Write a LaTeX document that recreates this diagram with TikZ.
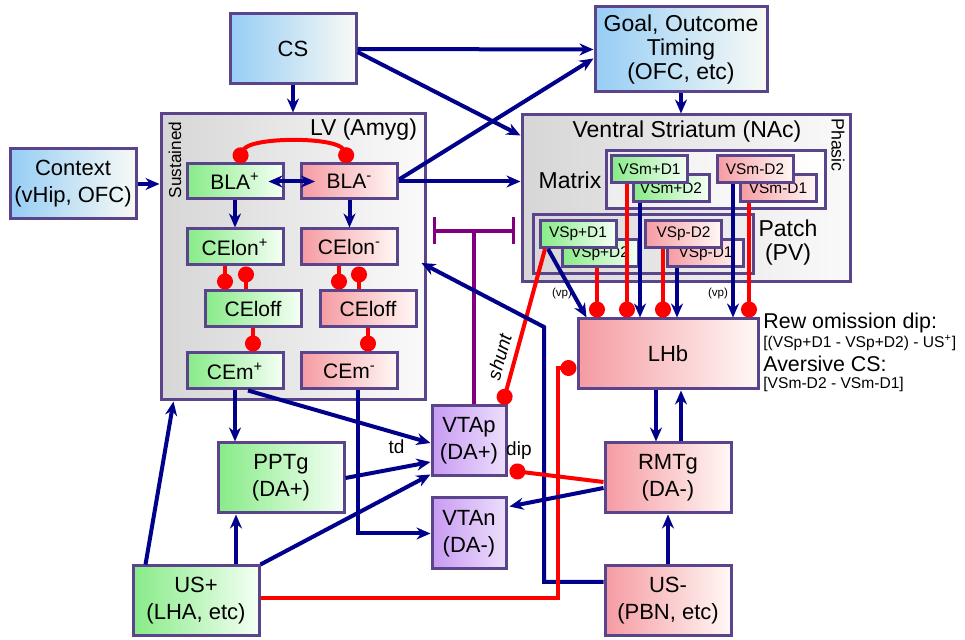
\documentclass[tikz,border=0pt]{standalone}
\usepackage{fontspec}
\setmainfont{Liberation Sans}
\usetikzlibrary{positioning,calc,arrows.meta}

\definecolor{boxline}{RGB}{90,68,140}
\definecolor{excit}{RGB}{0,0,139}
\definecolor{inhib}{RGB}{255,0,0}
\definecolor{shuntc}{RGB}{128,0,128}
\definecolor{cueleft}{RGB}{150,205,245}
\definecolor{cueright}{RGB}{248,250,245}
\definecolor{posleft}{RGB}{135,235,135}
\definecolor{posright}{RGB}{245,255,245}
\definecolor{negleft}{RGB}{245,155,162}
\definecolor{negright}{RGB}{255,248,245}
\definecolor{daleft}{RGB}{200,155,242}
\definecolor{daright}{RGB}{236,222,252}

\begin{document}
\begin{tikzpicture}
[x=0.5pt, y=-0.5pt,
wh/.style 2 args={minimum width=#1*0.5pt, minimum height=#2*0.5pt},
area/.style={draw=boxline, line width=1.5pt, inner sep=0pt, align=center, font=\fontsize{11}{13.5}\selectfont},
cuebox/.style={area, left color=cueleft, right color=cueright},
posbox/.style={area, left color=posleft, right color=posright},
negbox/.style={area, left color=negleft, right color=negright},
dabox/.style={area, left color=daleft, right color=daright},
regionbox/.style={area, left color=gray!32, right color=gray!4},
amy/.style={wh={96}{36}, font=\fontsize{10.5}{12}\selectfont},
striosome/.style={wh={76}{27}, font=\fontsize{7.7}{8}\selectfont},
title/.style={font=\fontsize{11.5}{12}\selectfont, align=center},
excite/.style={draw=excit, line width=2pt, -{Stealth[length=7pt,width=6pt]}},
inhibit/.style={draw=inhib, line width=2pt, -{Circle[length=8pt]}},
shunting/.style={draw=shuntc, line width=1.6pt},
]
\useasboundingbox (0,0) rectangle (965,640);

\node[cuebox, wh={126}{70}] (cs) at (293,49) {CS};
\node[cuebox, wh={126}{70}] (ctx) at (73,184) {Context\\(vHip, OFC)};
\node[cuebox, wh={172}{85}, font=\fontsize{11.5}{11.8}\selectfont] (goal) at (681,49.5) {Goal, Outcome\\Timing\\(OFC, etc)};

\node[regionbox, wh={264}{286}] (lv) at (293,257) {};
\node[title, anchor=east] (lvname) at (424,130) {LV (Amyg)};
\node[rotate=90, font=\fontsize{8.6}{9}\selectfont] (sust) at (175,160) {Sustained};
\node[posbox, amy, minimum height=17.5pt] (blap) at (235,181.5) {BLA\textsuperscript{+}};
\node[negbox, amy, minimum height=17.5pt] (blam) at (349.5,181.5) {BLA\textsuperscript{-}};
\node[posbox, amy] (celonp) at (235,247) {CElon\textsuperscript{+}};
\node[negbox, amy] (celonm) at (349.5,247) {CElon\textsuperscript{-}};
\node[posbox, amy] (celoffp) at (253,309) {CEloff};
\node[negbox, amy] (celoffm) at (368,309) {CEloff};
\node[posbox, amy] (cemp) at (235,371) {CEm\textsuperscript{+}};
\node[negbox, amy] (cemm) at (349.5,371) {CEm\textsuperscript{-}};

\node[regionbox, wh={328}{167}] (vs) at (686,198.5) {};
\node[title] (vsname) at (687,132) {Ventral Striatum (NAc)};
\node[rotate=-90, font=\fontsize{8.9}{9}\selectfont] (phasic) at (838,145) {Phasic};
\node[area, left color=gray!14, right color=white, wh={219}{58}] (matrix) at (715.5,180) {};
\node[title] (matrixname) at (570,180) {Matrix};
\node[area, wh={220}{59}] (patch) at (643,244.5) {};
\node[title] (patchname) at (788,243) {Patch\\(PV)};
\node[posbox, striosome] (vsmpd2) at (671,188) {VSm+D2};
\node[posbox, striosome] (vsmpd1) at (649.5,169) {VSm+D1};
\node[negbox, striosome] (vsmmd1) at (778,188) {VSm-D1};
\node[negbox, striosome] (vsmmd2) at (755,169) {VSm-D2};
\node[posbox, striosome] (vsppd2) at (600,253.5) {VSp+D2};
\node[posbox, striosome] (vsppd1) at (578,234) {VSp+D1};
\node[negbox, striosome] (vspmd1) at (705.5,253.5) {VSp-D1};
\node[negbox, striosome] (vspmd2) at (683.5,234) {VSp-D2};

\node[negbox, wh={180}{70}] (lhb) at (668,354) {LHb};
\node[negbox, wh={126}{70}] (rmtg) at (668,478) {RMTg\\(DA-)};
\node[negbox, wh={126}{70}] (usm) at (668,601) {US-\\(PBN, etc)};
\node[posbox, wh={126}{70}] (usp) at (196,601) {US+\\(LHA, etc)};
\node[posbox, wh={126}{70}] (pptg) at (281,478) {PPTg\\(DA+)};
\node[dabox, wh={74}{70}] (vtap) at (469,441) {VTAp\\(DA+)};
\node[dabox, wh={74}{71}] (vtan) at (469,533.5) {VTAn\\(DA-)};

\node[anchor=west, inner sep=1pt, font=\fontsize{10.7}{11}\selectfont] (rewlab) at (761,323) {Rew omission dip:};
\node[anchor=west, inner sep=1pt, font=\fontsize{7.8}{8}\selectfont] (rewform) at (761,343) {[(VSp+D1 - VSp+D2) - US\textsuperscript{+}]};
\node[anchor=west, inner sep=1pt, font=\fontsize{10.7}{11}\selectfont] (averlab) at (761,364) {Aversive CS:};
\node[anchor=west, inner sep=1pt, font=\fontsize{7.8}{8}\selectfont] (averform) at (761,384) {[VSm-D2 - VSm-D1]};
\node[font=\fontsize{5.8}{6}\selectfont] (vpa) at (562,294) {(vp)};
\node[font=\fontsize{5.8}{6}\selectfont] (vpb) at (718,294) {(vp)};

\draw[excite] (cs.south) -- (cs.south |- lv.north);
\draw[excite] (ctx.east) -- (ctx.east -| lv.west);
\draw[excite] (cs.east) -- (goal.west);
\draw[excite] ($(cs.east)+(0,3)$) -- ($(vs.north west)+(0,22)$);
\draw[excite] (goal.south) -- (goal.south |- vs.north);
\draw[excite] ($(blam.east)+(0,-2)$) -- ($(goal.west)+(0,9)$);
\draw[excite] (blam.east) -- (blam.east -| vs.west);

\draw[inhibit, {Circle[length=8pt]}-{Circle[length=8pt]}] ($(blap.north)+(2,0)$) .. controls ($(blap.north)+(15,-26)$) and ($(blam.north)+(-12,-26)$) .. (blam.north);
\draw[excite, {Stealth[length=7pt,width=6pt]}-{Stealth[length=7pt,width=6pt]}] ($(blap.east)+(-16,0)$) -- ($(blam.west)+(15,0)$);
\draw[excite] (blap.south) -- (celonp.north);
\draw[excite] (blam.south) -- (celonm.north);
\draw[inhibit] ($(celonp.south)+(-10,0)$) -- ($(celoffp.north)+(-28,0)$);
\draw[inhibit] ($(celoffp.north)+(-7,0)$) -- ($(celonp.south)+(11,0)$);
\draw[inhibit] ($(celonm.south)+(-10.5,0)$) -- ($(celoffm.north)+(-29,0)$);
\draw[inhibit] ($(celoffm.north)+(-9,0)$) -- ($(celonm.south)+(9.5,0)$);
\draw[inhibit] (celoffp.south) -- (celoffp.south |- cemp.north);
\draw[inhibit] (celoffm.south) -- (celoffm.south |- cemm.north);

\draw[excite] (cemp.south) -- (cemp.south |- pptg.north);
\draw[excite] ($(cemp.south)+(13,0)$) -- ($(vtap.west)+(0,2)$);
\draw[excite] ($(cemm.south)+(8,0)$) |- (vtan.west);

\draw[inhibit] ($(vsppd2.south)+(-3,0)$) -- ($(lhb.north)+(-71,0)$);
\draw[inhibit] ($(vsmpd1.south)+(-22.5,0)$) -- ($(lhb.north)+(-41,0)$);
\draw[excite] ($(vsmpd2.south)+(-31,0)$) -- ($(lhb.north)+(-28,0)$);
\draw[inhibit] ($(vspmd2.south)+(-20.5,0)$) -- ($(lhb.north)+(-5,0)$);
\draw[excite] ($(vspmd1.south)+(-28.5,0)$) -- ($(lhb.north)+(9,0)$);
\draw[excite] ($(vsmmd2.south)+(-22,0)$) -- ($(lhb.north)+(65,0)$);
\draw[inhibit] ($(vsmmd1.south)+(-29,0)$) -- ($(lhb.north)+(81,0)$);
\draw[excite] ($(vsppd1.south)+(-30,0)$) -- ($(lhb.north west)+(10,0)$);
\draw[inhibit] ($(vsppd1.south)+(-33,0)$) -- ($(vtap.north east)+(-5,0)$)
  node[pos=0.72, sloped, above, font=\fontsize{9.5}{10}\selectfont\itshape] {shunt};

\coordinate (tbar) at (474,231);
\coordinate (tbarl) at (433,231);
\coordinate (tbarr) at (515,231);
\draw[shunting] ($(vtap.north)+(5,0)$) -- (tbar);
\draw[shunting, {Bar[width=13.5pt]}-{Bar[width=13.5pt]}] (tbarl) -- (tbarr);

\draw[excite] ($(usm.west)+(0,-19)$) -| (544,327) -- ($(lv.east)+(-5,6)$);
\draw[inhibit] ($(usp.east)+(0,-3)$) -| (558,368) -- ($(lhb.west)+(0,14)$);
\draw[excite] ($(usp.north west)+(14,0)$) -- ($(lv.south west)+(14,0)$);
\draw[excite] ($(usp.north)+(40,0)$) -- ($(pptg.south)+(-45,0)$);
\draw[excite] (usp.north east) -- ($(vtap.south west)+(0,-3)$);
\draw[excite] (pptg.east) -- ($(vtap.west)+(0,21)$)
  node[pos=0.6, above=3pt, font=\fontsize{9.5}{10}\selectfont] {td};

\draw[inhibit] ($(rmtg.west)+(0,4)$) -- ($(vtap.south east)+(2,-7)$)
  node[pos=0.9, above=2pt, font=\fontsize{9.5}{10}\selectfont] {dip};
\draw[excite] ($(rmtg.west)+(0,10)$) -- ($(vtan.north east)+(2,10)$);
\draw[excite] ($(lhb.south)+(-12,0)$) -- ($(rmtg.north)+(-12,0)$);
\draw[excite] ($(rmtg.north)+(13,0)$) -- ($(lhb.south)+(13,0)$);
\draw[excite] (usm.north) -- (rmtg.south);
\end{tikzpicture}
\end{document}
